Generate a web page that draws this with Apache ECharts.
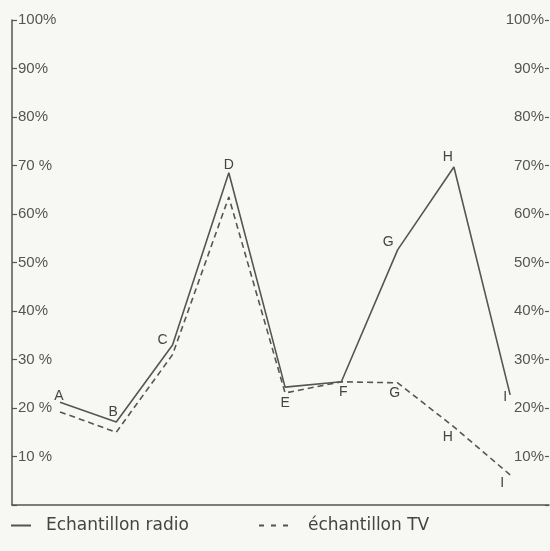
<!DOCTYPE html>
<html>
<head>
<meta charset="utf-8">
<script src="https://cdn.jsdelivr.net/npm/echarts@6/dist/echarts.min.js"></script>
<style>
  html, body { margin: 0; padding: 0; background: #f7f7f3; }
  #chart { width: 550px; height: 551px; }
</style>
</head>
<body>
<div id="chart"></div>
<script>
// points A..I (percent)
const points = ['A', 'B', 'C', 'D', 'E', 'F', 'G', 'H', 'I']
const radio = [21.2, 17.1, 33, 68.5, 24.3, 25.4, 52.6, 69.7, 22.7]
const tv = [19.2, 15, 31, 63.5, 23.1, 25.4, 25.2, 16.1, 6.2]
const leftTicks = ['', '10 %', '20 %', '30 %', '40%', '50%', '60%', '70 %', '80%', '90%', '100%']
const rightTicks = ['', '10%', '20%', '30%', '40%', '50%', '60%', '70%', '80%', '90%', '100%']

// which letters are written next to which line, and where
const radioLabels = [['top', [-1, 4]], ['top', [-3, 0]], ['left', [-2, -5]], ['top', [0, 2]], null,
    ['bottom', [2, 0]], ['left', [-1, -8]], ['top', [-6, 0]], ['left', [0, 2]]]
const tvLabels = [null, null, null, null, ['bottom', [0, 0]], null,
    ['bottom', [-3, 0]], ['bottom', [-6, 0]], ['bottom', [-8, -2]]]

const ink = '#555'
const font = 'Liberation Sans'

const toData = (vals, labels) => vals.map((v, i) => {
    const l = labels[i]
    return {
        value: [i, v],
        label: l ? { show: true, position: l[0], offset: l[1], distance: 3 } : { show: false }
    }
})

const chart = echarts.init(document.getElementById('chart'))
const option = {
    backgroundColor: '#f7f7f3',
    animation: false,
    textStyle: { fontFamily: font },
    grid: { left: 12, right: 1, top: 20, bottom: 46 },
    legend: [
        {
            left: 10, top: 517, padding: 0,
            itemWidth: 20,
            itemStyle: { opacity: 0 },
            data: ['Echantillon radio'],
            textStyle: { fontSize: 17, color: '#444', fontFamily: 'DejaVu Sans', padding: [0, 0, 0, 10] }
        },
        {
            left: 258, top: 517, padding: 0,
            itemWidth: 29,
            itemStyle: { opacity: 0 },
            lineStyle: { type: [5, 7] },
            data: ['échantillon TV'],
            textStyle: { fontSize: 17, color: '#444', fontFamily: 'DejaVu Sans', padding: [0, 0, 0, 15] }
        }
    ],
    xAxis: {
        type: 'value',
        min: -0.853,
        max: 8.69,
        splitLine: { show: false },
        axisTick: { show: false },
        axisLabel: { show: false },
        axisLine: { show: true, onZero: false, lineStyle: { color: ink, width: 1.5 } }
    },
    yAxis: [
        {
            type: 'value', min: 0, max: 100, interval: 10,
            position: 'left',
            splitLine: { show: false },
            axisLine: { show: true, onZero: false, lineStyle: { color: ink, width: 1.5 } },
            axisTick: { show: true, inside: true, length: 5, lineStyle: { color: ink, width: 1.2 } },
            axisLabel: {
                inside: true, margin: 6, fontSize: 15, color: '#555', fontFamily: font,
                formatter: v => leftTicks[Math.round(v / 10)]
            }
        },
        {
            type: 'value', min: 0, max: 100, interval: 10,
            position: 'right',
            splitLine: { show: false },
            axisLine: { show: false, onZero: false },
            axisTick: { show: true, inside: true, length: 4, lineStyle: { color: ink, width: 1.2 } },
            axisLabel: {
                inside: true, margin: 5, fontSize: 15, color: '#555', fontFamily: font,
                formatter: v => rightTicks[Math.round(v / 10)]
            }
        }
    ],
    series: [
        {
            name: 'Echantillon radio',
            type: 'line',
            symbol: 'circle',
            symbolSize: 0,
            lineStyle: { color: ink, width: 1.6 },
            itemStyle: { color: ink },
            label: {
                fontSize: 14, color: '#444', fontFamily: font,
                formatter: p => points[p.dataIndex]
            },
            data: toData(radio, radioLabels)
        },
        {
            name: 'échantillon TV',
            type: 'line',
            symbol: 'circle',
            symbolSize: 0,
            lineStyle: { color: ink, width: 1.6, type: [6, 4] },
            itemStyle: { color: ink },
            label: {
                fontSize: 14, color: '#444', fontFamily: font,
                formatter: p => points[p.dataIndex]
            },
            data: toData(tv, tvLabels)
        }
    ]
}
chart.setOption(option)
</script>
</body>
</html>
